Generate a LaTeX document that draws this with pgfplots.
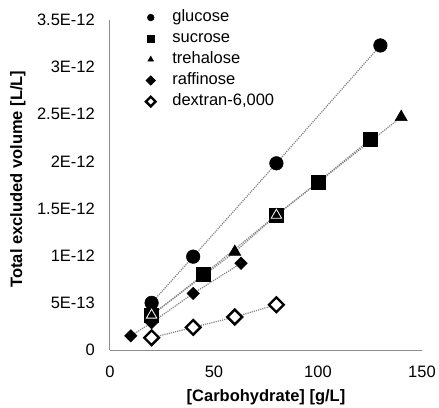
\documentclass[border=0pt]{standalone}
\usepackage{pgfplots}
\pgfplotsset{compat=1.18}
\usepackage{fontspec}
\setmainfont{Liberation Sans}
\definecolor{axgray}{HTML}{8C8C8C}
\definecolor{lngray}{HTML}{858585}
\begin{document}
\fontsize{16.5pt}{19pt}\selectfont
\begin{tikzpicture}
\path[use as bounding box] (-110pt,-57pt) rectangle (329pt,350pt);
\begin{axis}[
  at={(0,0)}, anchor=south west,
  scale only axis, width=312pt, height=330pt,
  xmin=0, xmax=150, ymin=0, ymax=3.5,
  axis x line*=bottom, axis y line*=left,
  axis line style={draw=axgray, line width=1pt, -},
  major tick length=0pt,
  xtick={0,50,100,150},
  xticklabels={0,50,100,150},
  ytick={0,0.5,1,1.5,2,2.5,3,3.5},
  yticklabels={0,5E-13,1E-12,1.5E-12,2E-12,2.5E-12,3E-12,3.5E-12},
  xticklabel style={inner sep=0pt, anchor=north, yshift=-16pt, font=\fontsize{16.5pt}{19pt}\selectfont},
  yticklabel style={inner sep=0pt, anchor=east, xshift=-15pt, font=\fontsize{16.5pt}{19pt}\selectfont},
  xlabel={[Carbohydrate] [g/L]},
  ylabel={Total excluded volume [L/L]},
  xlabel style={at={(axis description cs:0.5,-0.142)}, anchor=center, font=\fontsize{16.5pt}{19pt}\selectfont\bfseries},
  ylabel style={at={(axis description cs:-0.295,0.518)}, anchor=center, rotate=0, font=\fontsize{16.5pt}{19pt}\selectfont\bfseries},
  every axis plot/.append style={densely dotted, draw=lngray, line width=1.2pt},
  legend style={draw=none, fill=none, at={(axis description cs:0.112,1.03)}, anchor=north west,
    font=\fontsize{16.5pt}{19pt}\selectfont, row sep=6.5pt, inner sep=0pt,
    nodes={inner sep=0pt, text height=11.5pt, text depth=3pt}},
  legend cell align=left,
  legend image code/.code={\path (-5pt,0pt) (21pt,0pt);\draw[#1, only marks, mark size=3.4pt] plot coordinates {(0pt,0pt)};},
]
% glucose
\addplot[mark=*, mark size=6.8pt, mark options={solid, fill=black, draw=black, line width=0.5pt}] coordinates {
(20,0.50) (40,0.99) (80,1.98) (130,3.23)};
\addlegendentry{glucose}
% sucrose
\addplot[mark=square*, mark size=7pt, mark options={solid, fill=black, draw=black, line width=0.5pt}] coordinates {
(20,0.37) (45,0.80) (80,1.43) (100,1.78) (125,2.23)};
\addlegendentry{sucrose}
% trehalose
\addplot[mark=triangle*, mark size=7pt, mark options={solid, fill=black, draw=black, line width=0.5pt}] coordinates {
(20,0.37) (60,1.04) (80,1.43) (140,2.47)};
\addlegendentry{trehalose}
% raffinose
\addplot[mark=square*, mark size=4.4pt, mark options={solid, fill=black, draw=black, rotate=45, line width=0.5pt}] coordinates {
(10,0.15) (20,0.29) (40,0.60) (63,0.92)};
\addlegendentry{raffinose}
% dextran
\addplot[mark=square*, mark size=5.2pt, mark options={solid, fill=white, draw=black, rotate=45, line width=2.4pt}] coordinates {
(20,0.13) (40,0.24) (60,0.35) (80,0.48)};
\addlegendentry{dextran-6,000}
% trehalose marks overlapping sucrose squares: white-edged
\addplot[only marks, forget plot, mark=triangle*, mark size=6pt, mark options={solid, fill=black, draw=white, line width=0.8pt}] coordinates {
(20,0.37) (80,1.43)};
\end{axis}
\end{tikzpicture}
\end{document}
